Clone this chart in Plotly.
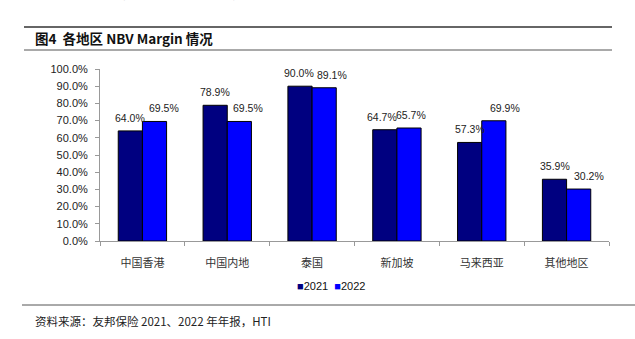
import plotly.graph_objects as go

categories = ["中国香港", "中国内地", "泰国", "新加坡", "马来西亚", "其他地区"]
v2021 = [0.640, 0.789, 0.900, 0.647, 0.573, 0.359]
v2022 = [0.695, 0.695, 0.891, 0.657, 0.699, 0.302]
y_ticks = [i / 10 for i in range(11)]

# label horizontal nudges (pixels), as placed in the original chart
dx2021 = [0, 0, -1, -3, 0, 0]
dx2022 = [10, 9, 8, 2, 11, 10]

C21, C22 = "#000080", "#0000FF"
W, H = 635, 339
ML, MR, MT, MB = 100, 26, 69, 98

fig = go.Figure()
for name, vals, col in [("2021", v2021, C21), ("2022", v2022, C22)]:
    fig.add_trace(go.Bar(
        x=categories, y=vals, name=name,
        marker=dict(color=col, line=dict(color="black", width=1)),
        showlegend=False,
    ))

fig.update_layout(
    width=W, height=H, margin=dict(l=ML, r=MR, t=MT, b=MB),
    paper_bgcolor="white", plot_bgcolor="white",
    barmode="group", bargap=0.43, bargroupgap=0,
    font=dict(family="Liberation Sans, Arial", size=11, color="#222"),
    showlegend=False,
)
fig.update_yaxes(range=[0, 1], tickvals=y_ticks, tickformat=".1%", showgrid=False,
                 showline=True, linecolor="#999", linewidth=1, ticks="outside",
                 ticklen=4, tickcolor="#999", zeroline=False, ticklabelstandoff=5,
                 tickfont=dict(size=11, color="#222"))
fig.update_xaxes(showline=True, linecolor="#999", linewidth=1, ticks="outside",
                 tickson="boundaries", ticklen=4, tickcolor="#999", ticklabelstandoff=12,
                 tickfont=dict(family="Noto Sans CJK SC", size=11, color="#333"))

# value labels
bar_half = 12
for i, cat in enumerate(categories):
    for vals, sgn, dx in [(v2021, -1, dx2021), (v2022, 1, dx2022)]:
        fig.add_annotation(x=cat, y=vals[i], xref="x", yref="y", text=f"{vals[i]*100:.1f}%",
                           showarrow=False, xshift=sgn * bar_half + dx[i], yshift=13,
                           font=dict(family="Liberation Sans, Arial", size=10.5, color="#222"))

def py(pix):
    return (H - MB - pix) / (H - MT - MB)

def px(pix):
    return (pix - ML) / (W - ML - MR)

shapes = [
    dict(type="line", xref="paper", yref="paper", x0=px(24), x1=px(612), y0=py(27), y1=py(27),
         line=dict(color="#333", width=1.5)),
    dict(type="line", xref="paper", yref="paper", x0=px(24), x1=px(612), y0=py(50), y1=py(50),
         line=dict(color="#555", width=1)),
    dict(type="line", xref="paper", yref="paper", x0=px(22), x1=px(635), y0=py(305), y1=py(305),
         line=dict(color="#555", width=1)),
]
fig.update_layout(shapes=shapes)
fig.add_annotation(xref="paper", yref="paper", x=px(33), y=py(38), xanchor="left", yanchor="middle",
                   text="<b>图4  各地区 NBV Margin 情况</b>", showarrow=False,
                   font=dict(family="Noto Sans CJK SC", size=13.5, color="#111"))
fig.add_annotation(xref="paper", yref="paper", x=px(33), y=py(321), xanchor="left", yanchor="middle",
                   text="资料来源：友邦保险 2021、2022 年年报，HTI", showarrow=False,
                   font=dict(family="Noto Sans CJK SC", size=11.5, color="#222"))
fig.add_annotation(xref="paper", yref="paper", x=px(33), y=py(-6), xanchor="left", yanchor="middle",
                   text="资料来源：友邦保险 2021、2022 年年报，HTI", showarrow=False,
                   font=dict(family="Noto Sans CJK SC", size=11, color="#999"))
# legend
fig.add_annotation(xref="paper", yref="paper", x=px(295), y=py(286), xanchor="left", yanchor="middle",
                   text=f"<span style='color:{C21}'>■</span>2021  <span style='color:{C22}'>■</span>2022",
                   showarrow=False,
                   font=dict(family="Liberation Sans, Arial", size=11, color="#111"))

fig.write_html("out.html")
